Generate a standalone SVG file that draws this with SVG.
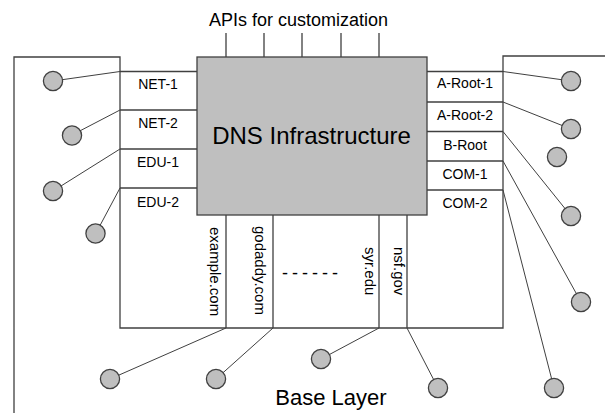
<svg xmlns="http://www.w3.org/2000/svg" width="605" height="413" viewBox="0 0 605 413">
<style>
.ln{fill:none;stroke:#404040;stroke-width:1.3}
.th{fill:none;stroke:#404040;stroke-width:1}
.nd{fill:#bfbfbf;stroke:#404040;stroke-width:1.3}
.t{font-family:"Liberation Sans",Arial,sans-serif;fill:#000}
.lab{font-size:14px;text-anchor:middle}
.vt{font-size:15px}
</style>
<rect width="605" height="413" fill="#fff"/>
<g id="base-layer">
<polyline class="ln" points="14,413 14,57 120,57 120,328 503,328 503,56 605,56"/>
<text class="t" x="331" y="405" font-size="22" text-anchor="middle">Base Layer</text>
</g>
<g id="apis">
<text class="t" x="298.5" y="26" font-size="18" text-anchor="middle">APIs for customization</text>
<path class="ln" d="M226,33V57M264,33V57M302,33V57M341,33V57M379,33V57"/>
</g>
<g id="dns-infrastructure">
<rect class="nd" x="197" y="57" width="230" height="158"/>
<text class="t" x="311.5" y="144" font-size="24" text-anchor="middle">DNS Infrastructure</text>
</g>
<g id="left-strip">
<path class="ln" d="M120,71.5H197M120,110H197M120,149H197M120,188H197"/>
<text class="t lab" x="158" y="89">NET-1</text>
<text class="t lab" x="158" y="128">NET-2</text>
<text class="t lab" x="158" y="167">EDU-1</text>
<text class="t lab" x="158" y="206.5">EDU-2</text>
</g>
<g id="right-strip">
<path class="ln" d="M427,71.5H503M427,102H503M427,131.5H503M427,161H503M427,190H503"/>
<text class="t lab" x="465" y="88">A-Root-1</text>
<text class="t lab" x="465" y="120">A-Root-2</text>
<text class="t lab" x="465" y="150">B-Root</text>
<text class="t lab" x="465" y="179">COM-1</text>
<text class="t lab" x="465" y="208">COM-2</text>
</g>
<g id="bottom-strip">
<path class="ln" d="M226,215V328M273,215V328M379,215V328M407,215V328"/>
<text class="t vt" transform="translate(210,227) rotate(90)">example.com</text>
<text class="t vt" transform="translate(255,226) rotate(90)">godaddy.com</text>
<text class="t vt" transform="translate(365,247) rotate(90)">syr.edu</text>
<text class="t vt" transform="translate(393.5,247) rotate(90)">nsf.gov</text>
<text class="t" x="282" y="279" font-size="18" textLength="56" lengthAdjust="spacing">------</text>
</g>
<g id="connectors">
<path class="th" d="M53,81L120,71.5M72,135L120,110M53,191L120,149M96,233L120,188"/>
<path class="th" d="M571,81L503,71.5M571,129L503,102M571,216L503,131.5M581,302L503,161M554,388L503,190"/>
<path class="th" d="M110,379L226,328M216,379L273,328M321,359L379,328M438,388L407,328"/>
</g>
<g id="hosts">
<circle class="nd" cx="53" cy="81" r="9.6"/>
<circle class="nd" cx="72" cy="135.5" r="9.6"/>
<circle class="nd" cx="53" cy="191" r="9.6"/>
<circle class="nd" cx="95.5" cy="233.5" r="9.6"/>
<circle class="nd" cx="571" cy="81" r="9.6"/>
<circle class="nd" cx="571" cy="129" r="9.6"/>
<circle class="nd" cx="557" cy="157" r="9.6"/>
<circle class="nd" cx="571" cy="216" r="9.6"/>
<circle class="nd" cx="581" cy="302" r="9.6"/>
<circle class="nd" cx="554" cy="388" r="9.6"/>
<circle class="nd" cx="110" cy="379" r="9.6"/>
<circle class="nd" cx="216" cy="379" r="9.6"/>
<circle class="nd" cx="321" cy="359" r="9.6"/>
<circle class="nd" cx="438" cy="388" r="9.6"/>
</g>
</svg>
